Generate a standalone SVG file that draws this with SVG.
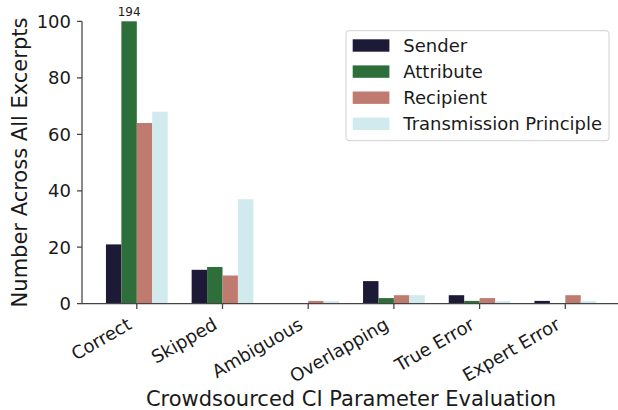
<svg xmlns="http://www.w3.org/2000/svg" width="618" height="410" viewBox="0 0 618 410">
<style>
text{font-family:"DejaVu Sans","Liberation Sans",sans-serif;fill:#1a1a1a}
.tk{font-size:18px}
.yt{text-anchor:end}
.xt{text-anchor:end}
.lab{font-size:21px;text-anchor:middle}
.s{fill:#1d1a37}.a{fill:#2d6e3b}.r{fill:#c07b70}.t{fill:#d1eaee}
.ax{stroke:#444;stroke-width:1.25;fill:none}
.tick{stroke:#444;stroke-width:1.25}
</style>
<rect width="618" height="410" fill="#fff"/>
<g id="bars">
<g id="sender">
<rect class="s" x="105.95" y="244.4" width="15.43" height="59.3"/>
<rect class="s" x="191.65" y="269.8" width="15.43" height="33.9"/>
<rect class="s" x="277.35" y="303.1" width="15.43" height="0.6"/>
<rect class="s" x="363.05" y="281.1" width="15.43" height="22.6"/>
<rect class="s" x="448.75" y="295.2" width="15.43" height="8.5"/>
<rect class="s" x="534.45" y="300.9" width="15.43" height="2.8"/>
</g>
<g id="attribute">
<rect class="a" x="121.38" y="21.3" width="15.43" height="282.4"/>
<rect class="a" x="207.08" y="267.0" width="15.43" height="36.7"/>
<rect class="a" x="292.78" y="303.1" width="15.43" height="0.6"/>
<rect class="a" x="378.48" y="298.1" width="15.43" height="5.6"/>
<rect class="a" x="464.18" y="300.9" width="15.43" height="2.8"/>
</g>
<g id="recipient">
<rect class="r" x="136.8" y="123.0" width="15.43" height="180.7"/>
<rect class="r" x="222.5" y="275.5" width="15.43" height="28.2"/>
<rect class="r" x="308.2" y="300.9" width="15.43" height="2.8"/>
<rect class="r" x="393.9" y="295.2" width="15.43" height="8.5"/>
<rect class="r" x="479.6" y="298.1" width="15.43" height="5.6"/>
<rect class="r" x="565.3" y="295.2" width="15.43" height="8.5"/>
</g>
<g id="transmission">
<rect class="t" x="152.23" y="111.7" width="15.43" height="192.0"/>
<rect class="t" x="237.93" y="199.2" width="15.43" height="104.5"/>
<rect class="t" x="323.63" y="300.9" width="15.43" height="2.8"/>
<rect class="t" x="409.33" y="295.2" width="15.43" height="8.5"/>
<rect class="t" x="495.03" y="300.9" width="15.43" height="2.8"/>
<rect class="t" x="580.73" y="300.9" width="15.43" height="2.8"/>
</g>
<text id="overflow-label" x="129.2" y="16" font-size="12" text-anchor="middle">194</text>
</g>
<g id="axes">
<path class="ax" d="M82,21.3V303.7H620"/>
<g class="tick">
<path d="M77,21.3H82M77,77.8H82M77,134.3H82M77,190.8H82M77,247.2H82M77,303.7H82"/>
<path d="M136.8,303.7V309M222.5,303.7V309M308.2,303.7V309M393.9,303.7V309M479.6,303.7V309M565.3,303.7V309"/>
</g>
<g class="tk yt">
<text x="71" y="27.9">100</text>
<text x="71" y="84.4">80</text>
<text x="71" y="140.9">60</text>
<text x="71" y="197.4">40</text>
<text x="71" y="253.8">20</text>
<text x="71" y="310.3">0</text>
</g>
<g class="tk xt">
<text transform="translate(132.8,328) rotate(-30)">Correct</text>
<text transform="translate(218.5,328) rotate(-30)">Skipped</text>
<text transform="translate(304.2,328) rotate(-30)">Ambiguous</text>
<text transform="translate(389.9,328) rotate(-30)">Overlapping</text>
<text transform="translate(475.6,328) rotate(-30)">True Error</text>
<text transform="translate(561.3,328) rotate(-30)">Expert Error</text>
</g>
<text class="lab" x="351" y="406">Crowdsourced CI Parameter Evaluation</text>
<text class="lab" transform="translate(26.7,162.5) rotate(-90)">Number Across All Excerpts</text>
</g>
<g id="legend">
<rect x="346" y="30.7" width="263" height="110" rx="3" fill="#fff" fill-opacity="0.8" stroke="#d0d0d0" stroke-width="1"/>
<rect class="s" x="352.7" y="39.3" width="36.7" height="12.4"/>
<rect class="a" x="352.7" y="65.4" width="36.7" height="12.4"/>
<rect class="r" x="352.7" y="91.5" width="36.7" height="12.4"/>
<rect class="t" x="352.7" y="117.6" width="36.7" height="12.4"/>
<g class="tk">
<text x="403.3" y="51.7">Sender</text>
<text x="403.3" y="77.8">Attribute</text>
<text x="403.3" y="103.9">Recipient</text>
<text x="403.3" y="130">Transmission Principle</text>
</g>
</g>
</svg>
